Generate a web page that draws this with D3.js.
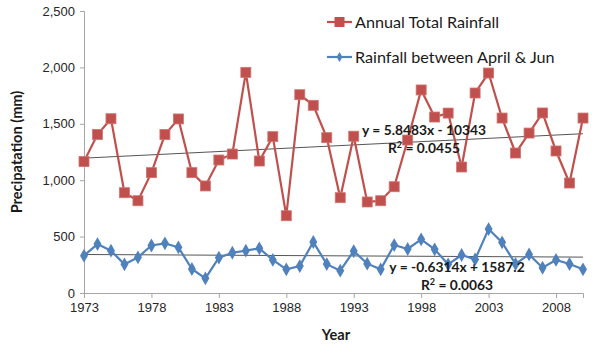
<!DOCTYPE html>
<html>
<head>
<meta charset="utf-8">
<script src="https://cdn.jsdelivr.net/npm/d3@7"></script>
<style>
    body { margin: 0; background: #fff; }
    svg { font-family: Lato, "Open Sans", sans-serif; }
</style>
</head>
<body>
<div id="chart"></div>
<script>
const years = d3.range(1973, 2011);
const annualTotal = [1165, 1405, 1545, 889, 818, 1067, 1405, 1543, 1067, 949,
    1179, 1232, 1956, 1170, 1386, 685, 1758, 1664, 1377, 845,
    1390, 807, 818, 942, 1356, 1800, 1560, 1595, 1117, 1773,
    1950, 1551, 1241, 1418, 1596, 1259, 975, 1551];
const aprilJun = [331, 434, 375, 254, 316, 421, 440, 405, 213, 130,
    313, 357, 375, 396, 293, 210, 239, 452, 256, 198,
    372, 260, 210, 425, 390, 476, 387, 254, 337, 298,
    567, 449, 257, 342, 224, 293, 257, 210];
const yTicks = [0, 500, 1000, 1500, 2000, 2500];
const xTicks = [1973, 1978, 1983, 1988, 1993, 1998, 2003, 2008];
// trendline coefficients as printed on the chart
const trendAnnual = { slope: 5.8483, intercept: -10343, eq: "y = 5.8483x - 10343", r2: "0.0455" };
const trendAprJun = { slope: -0.6314, intercept: 1587.2, eq: "y = -0.6314x + 1587.2", r2: "0.0063" };

const red = "#c0504d";
const blue = "#4f81bd";

function draw() {
    const svg = d3.select("#chart").append("svg")
        .attr("width", 600)
        .attr("height", 350);

    const x = d3.scaleLinear().domain([1973, 2010]).range([84, 583]);
    const y = d3.scaleLinear().domain([0, 2500]).range([293, 11]);

    // axes
    const yAxis = svg.append("g")
        .attr("transform", "translate(84,0)")
        .call(d3.axisLeft(y).tickValues(yTicks).tickFormat(d3.format(",")).tickSize(4).tickPadding(5));
    const xAxis = svg.append("g")
        .attr("transform", "translate(0,293)")
        .call(d3.axisBottom(x).tickValues(xTicks).tickFormat(d3.format("d")).tickSize(5).tickPadding(5));
    [yAxis, xAxis].forEach(a => {
        a.select(".domain").attr("stroke", "#a6a6a6");
        a.selectAll(".tick line").attr("stroke", "#a6a6a6");
        a.selectAll(".tick text").attr("fill", "#262626").style("font-size", "13px");
    });

    // trendlines
    function trend(t, color) {
        svg.append("line")
            .attr("x1", x(1973)).attr("y1", y(t.slope * 1973 + t.intercept))
            .attr("x2", x(2010)).attr("y2", y(t.slope * 2010 + t.intercept))
            .attr("stroke", color).attr("stroke-width", 1);
    }
    trend(trendAnnual, "#555");
    trend(trendAprJun, "#555");

    const line = d3.line().x((d, i) => x(years[i])).y(d => y(d));

    // annual series
    svg.append("path").datum(annualTotal)
        .attr("d", line).attr("fill", "none")
        .attr("stroke", red).attr("stroke-width", 2.2);
    svg.selectAll(".sq").data(annualTotal).join("rect")
        .attr("x", (d, i) => x(years[i]) - 5)
        .attr("y", d => y(d) - 5)
        .attr("width", 10).attr("height", 10)
        .attr("fill", red).attr("stroke", "#d07370").attr("stroke-width", 0.8);

    // april-june series
    svg.append("path").datum(aprilJun)
        .attr("d", line).attr("fill", "none")
        .attr("stroke", blue).attr("stroke-width", 2.2);
    const diamond = d3.symbol().type(d3.symbolDiamond).size(55);
    svg.selectAll(".dm").data(aprilJun).join("path")
        .attr("transform", (d, i) => `translate(${x(years[i])},${y(d)})`)
        .attr("d", diamond)
        .attr("fill", blue);

    // equations
    const eqs = [
        { t: trendAnnual, x: 424, y: 135 },
        { t: trendAprJun, x: 457, y: 272 }
    ];
    eqs.forEach(e => {
        svg.append("text").attr("x", e.x).attr("y", e.y)
            .attr("text-anchor", "middle").attr("font-weight", "bold")
            .style("font-size", "13.8px").attr("fill", "#1a1a1a")
            .text(e.t.eq);
        const r = svg.append("text").attr("x", e.x).attr("y", e.y + 18)
            .attr("text-anchor", "middle").attr("font-weight", "bold")
            .style("font-size", "13.8px").attr("fill", "#1a1a1a");
        r.append("tspan").text("R");
        r.append("tspan").attr("dy", -5).style("font-size", "9px").text("2");
        r.append("tspan").attr("dy", 5).text(" = " + e.t.r2);
    });

    // legend
    const legend = [
        { name: "Annual Total Rainfall", color: red, y: 22, mark: "sq" },
        { name: "Rainfall between April & Jun", color: blue, y: 57, mark: "dm" }
    ];
    legend.forEach(l => {
        svg.append("line").attr("x1", 327).attr("x2", 352)
            .attr("y1", l.y).attr("y2", l.y)
            .attr("stroke", l.color).attr("stroke-width", 2.2);
        if (l.mark === "sq") {
            svg.append("rect").attr("x", 334.5).attr("y", l.y - 5)
                .attr("width", 10).attr("height", 10).attr("fill", l.color);
        } else {
            svg.append("path").attr("transform", `translate(339.5,${l.y})`)
                .attr("d", d3.symbol().type(d3.symbolDiamond).size(30)).attr("fill", l.color);
        }
        svg.append("text").attr("x", 355).attr("y", l.y + 5.5)
            .style("font-size", "16.2px").attr("fill", "#1a1a1a")
            .text(l.name);
    });

    // axis titles
    svg.append("text")
        .attr("transform", "translate(22,152) rotate(-90)")
        .attr("text-anchor", "middle").attr("font-weight", "bold")
        .style("font-size", "14.6px").attr("fill", "#1a1a1a")
        .text("Precipatation (mm)");
    svg.append("text")
        .attr("x", 336).attr("y", 340)
        .attr("text-anchor", "middle").attr("font-weight", "bold")
        .style("font-size", "14.6px").attr("fill", "#1a1a1a")
        .text("Year");
}

document.addEventListener("DOMContentLoaded", draw);
</script>
</body>
</html>
